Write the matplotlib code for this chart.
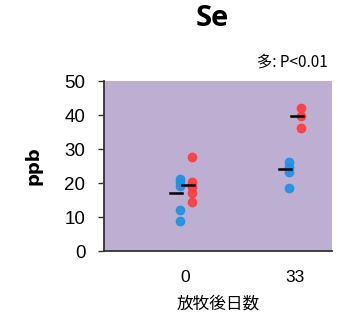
import matplotlib
matplotlib.use("Agg")
import matplotlib.pyplot as plt
import numpy as np

categories = ["0", "33"]
blue_0 = [21.2, 20.3, 19.1, 12.1, 8.9]
red_0 = [27.6, 20.4, 18.7, 17.0, 14.3]
blue_33 = [26.3, 24.8, 23.1, 18.6]
red_33 = [42.2, 39.8, 36.3]
blue_means = [17.0, 24.1]
red_means = [19.4, 39.8]
yticks = [0, 10, 20, 30, 40, 50]

BLUE = "#1E90E6"
RED = "#FF3B3B"
BG = "#BCAFD2"

fig = plt.figure(figsize=(3.38, 3.20), dpi=100)
ax = fig.add_axes([104/338, 1-251/320, (332-104)/338, (251-81)/320])
ax.set_facecolor(BG)

off = 0.055
lw_off = 0.035
for i, (b, r) in enumerate([(blue_0, red_0), (blue_33, red_33)]):
    ax.plot([i - off]*len(b), b, 'o', color=BLUE, ms=6, mec=BLUE, alpha=0.9, zorder=3)
    ax.plot([i + off]*len(r), r, 'o', color=RED, ms=6, mec=RED, alpha=0.9, zorder=3)
    bx = i - off - lw_off
    rx = i + off - lw_off
    ax.plot([bx - 0.055, bx + 0.055], [blue_means[i]]*2, color='black', lw=1.8, zorder=4)
    ax.plot([rx - 0.055, rx + 0.055], [red_means[i]]*2, color='black', lw=1.8, zorder=4)

ax.set_xlim(-0.748, 1.344)
ax.set_ylim(0, 50)
ax.set_yticks(yticks)
ax.set_yticklabels([str(t) for t in yticks], fontsize=13.5, family="Liberation Sans")
ax.set_xticks([0, 1])
ax.set_xticklabels(categories, fontsize=12.5, family="Liberation Sans")
ax.tick_params(axis='x', length=0, pad=14)
ax.tick_params(axis='y', length=4.5, width=1, color='#333333', pad=9)
for s in ['top', 'right']:
    ax.spines[s].set_visible(False)
for s in ['left', 'bottom']:
    ax.spines[s].set_color('#333333')
    ax.spines[s].set_linewidth(1.3)

ax.set_ylabel("ppb", fontsize=13, fontweight='bold', labelpad=16)
ax.set_xlabel("放牧後日数", fontsize=12, family=["Noto Sans CJK JP", "DejaVu Sans"], labelpad=7)

fig.text(212/338, 1-18/320, "Se", ha='center', va='center', fontsize=21, fontweight='bold', family="Open Sans")
fig.text(328/338, 1-62/320, "多: P<0.01", ha='right', va='center', fontsize=11,
         family=["Noto Sans CJK JP", "DejaVu Sans"])

fig.savefig("out.png", dpi=100)
